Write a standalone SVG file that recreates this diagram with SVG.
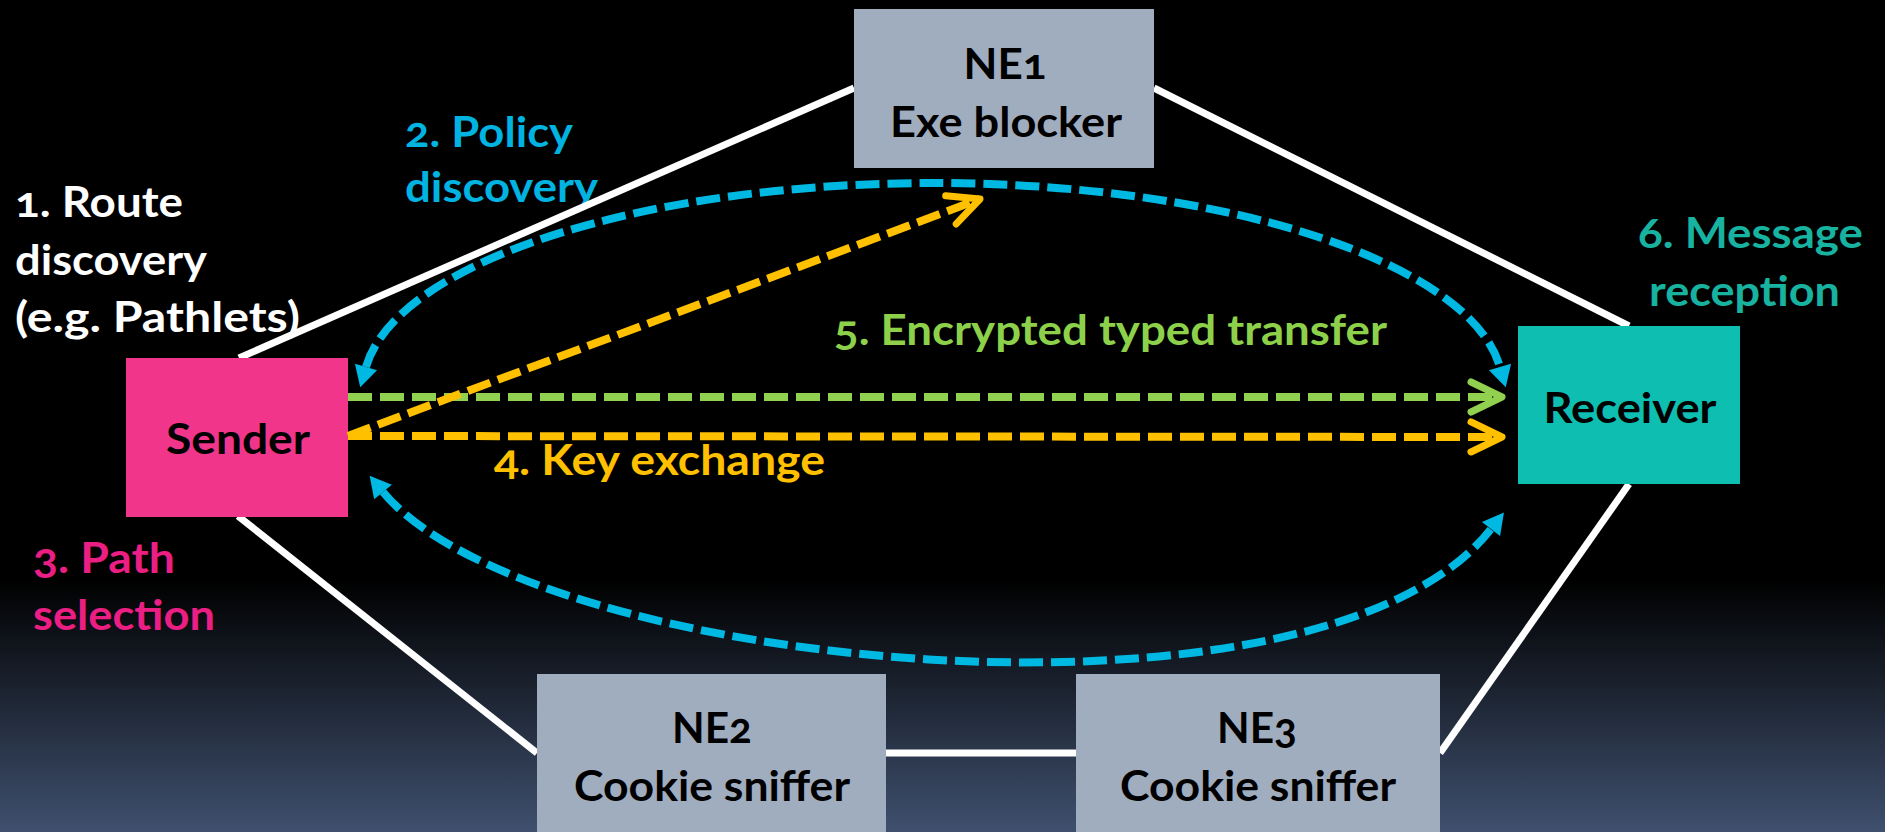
<svg xmlns="http://www.w3.org/2000/svg" width="1885" height="832" viewBox="0 0 1885 832">
  <defs>
    <linearGradient id="bg" x1="0" y1="0" x2="0" y2="1">
      <stop offset="0" stop-color="#000000"/>
      <stop offset="0.697" stop-color="#000000"/>
      <stop offset="1" stop-color="#3f506e"/>
    </linearGradient>
    <!-- filled triangle head, base sits on the path end -->
    <marker id="tri-blue" markerUnits="userSpaceOnUse" viewBox="-1 -13 24 26" refX="0" refY="0" markerWidth="24" markerHeight="26" orient="auto-start-reverse" overflow="visible">
      <path d="M21,0 L0,-11.5 L0,11.5 Z" fill="#00b9e3"/>
    </marker>
    <!-- open chevron heads, tip on the path end -->
    <marker id="chev-yellow" markerUnits="userSpaceOnUse" viewBox="-36 -20 40 40" refX="0" refY="0" markerWidth="40" markerHeight="40" orient="auto" overflow="visible">
      <path d="M-31,-15 L0,0 L-31,15" fill="none" stroke="#ffc000" stroke-width="7" stroke-linecap="round" stroke-linejoin="round"/>
    </marker>
    <marker id="chev-green" markerUnits="userSpaceOnUse" viewBox="-36 -20 40 40" refX="0" refY="0" markerWidth="40" markerHeight="40" orient="auto" overflow="visible">
      <path d="M-31,-15 L0,0 L-31,15" fill="none" stroke="#92d050" stroke-width="7" stroke-linecap="round" stroke-linejoin="round"/>
    </marker>
  </defs>
  <style>
    text { font-family: "Lato", "Open Sans", "Liberation Sans", sans-serif; font-weight: 700; font-size: 42px; font-variant-numeric: oldstyle-nums; }
    .link { stroke: #ffffff; stroke-width: 7; fill: none; }
    .flow { fill: none; stroke-width: 8; stroke-dasharray: 24 8; }
    .blue { stroke: #00b9e3; }
    .yellow { stroke: #ffc000; }
    .green { stroke: #92d050; }
    .box-sender { fill: #f0358b; }
    .box-receiver { fill: #0ebfb1; }
    .box-ne { fill: #a0adbf; }
    .node-text { fill: #000000; text-anchor: middle; }
    .lbl-white { fill: #ffffff; }
    .lbl-blue { fill: #00b3e0; }
    .lbl-pink { fill: #ea1e83; }
    .lbl-yellow { fill: #ffc000; }
    .lbl-green { fill: #8dd14b; }
    .lbl-teal { fill: #17b2a0; }
  </style>

  <rect id="background" x="0" y="0" width="1885" height="832" fill="url(#bg)"/>

  <!-- step annotations -->
  <g id="labels">
    <text class="lbl-white" x="15" y="217" textLength="168" lengthAdjust="spacingAndGlyphs">1. Route</text>
    <text class="lbl-white" x="15" y="275" textLength="192" lengthAdjust="spacingAndGlyphs">discovery</text>
    <text class="lbl-white" x="15" y="332" textLength="285" lengthAdjust="spacingAndGlyphs">(e.g. Pathlets)</text>
    <text class="lbl-blue" x="405" y="147" textLength="168" lengthAdjust="spacingAndGlyphs">2. Policy</text>
    <text class="lbl-blue" x="405" y="202" textLength="193" lengthAdjust="spacingAndGlyphs">discovery</text>
    <text class="lbl-pink" x="33" y="573" textLength="142" lengthAdjust="spacingAndGlyphs">3. Path</text>
    <text class="lbl-pink" x="33" y="630" textLength="182" lengthAdjust="spacingAndGlyphs">selection</text>
    <text class="lbl-yellow" x="494" y="475" textLength="331" lengthAdjust="spacingAndGlyphs">4. Key exchange</text>
    <text class="lbl-green" x="834" y="345" textLength="553" lengthAdjust="spacingAndGlyphs">5. Encrypted typed transfer</text>
    <text class="lbl-teal" x="1638" y="248" textLength="225" lengthAdjust="spacingAndGlyphs">6. Message</text>
    <text class="lbl-teal" x="1649" y="306" textLength="191" lengthAdjust="spacingAndGlyphs">reception</text>
  </g>

  <!-- physical links between sender, network elements and receiver -->
  <g id="links">
    <line class="link" x1="239" y1="358" x2="854" y2="88"/>
    <line class="link" x1="1154" y1="88" x2="1629" y2="326"/>
    <line class="link" x1="238" y1="516" x2="537" y2="753"/>
    <line class="link" x1="886" y1="753" x2="1076" y2="753"/>
    <line class="link" x1="1440" y1="753" x2="1629" y2="484"/>
  </g>

  <g id="node-sender">
    <rect class="box-sender" x="126" y="358" width="222" height="159"/>
    <text class="node-text" x="238" y="454" textLength="144" lengthAdjust="spacingAndGlyphs">Sender</text>
  </g>
  <g id="node-receiver">
    <rect class="box-receiver" x="1518" y="326" width="222" height="158"/>
    <text class="node-text" x="1630" y="423" textLength="173" lengthAdjust="spacingAndGlyphs">Receiver</text>
  </g>
  <g id="node-ne1">
    <rect class="box-ne" x="854" y="9" width="300" height="159"/>
    <text class="node-text" x="1005" y="79" textLength="83" lengthAdjust="spacingAndGlyphs">NE1</text>
    <text class="node-text" x="1006" y="137" textLength="232" lengthAdjust="spacingAndGlyphs">Exe blocker</text>
  </g>
  <g id="node-ne2">
    <rect class="box-ne" x="537" y="674" width="349" height="170"/>
    <text class="node-text" x="712" y="743" textLength="80" lengthAdjust="spacingAndGlyphs">NE2</text>
    <text class="node-text" x="712" y="801" textLength="276" lengthAdjust="spacingAndGlyphs">Cookie sniffer</text>
  </g>
  <g id="node-ne3">
    <rect class="box-ne" x="1076" y="674" width="364" height="170"/>
    <text class="node-text" x="1257" y="743" textLength="80" lengthAdjust="spacingAndGlyphs">NE3</text>
    <text class="node-text" x="1258" y="801" textLength="276" lengthAdjust="spacingAndGlyphs">Cookie sniffer</text>
  </g>

  <!-- protocol message flows -->
  <g id="connectors">
    <path class="flow blue" d="M366,367 A570,205 0 0 1 1500,367" marker-start="url(#tri-blue)" marker-end="url(#tri-blue)"/>
    <path class="flow blue" d="M383,492 C530,670 1320,748 1491,529" marker-start="url(#tri-blue)" marker-end="url(#tri-blue)"/>
    <line class="flow green" x1="348" y1="397" x2="1502" y2="397" marker-end="url(#chev-green)"/>
    <line class="flow yellow" x1="348" y1="436" x2="1502" y2="437" marker-end="url(#chev-yellow)"/>
    <line class="flow yellow" x1="348" y1="436" x2="980" y2="199" marker-end="url(#chev-yellow)"/>
  </g>
</svg>
